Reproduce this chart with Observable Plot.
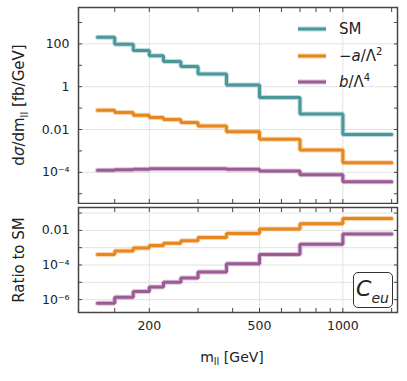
<!DOCTYPE html>
<html><head><meta charset="utf-8">
<script src="https://cdn.jsdelivr.net/npm/d3@7"></script>
<script src="https://cdn.jsdelivr.net/npm/@observablehq/plot@0.6"></script>
<style>
body{margin:0;background:#fff;}
#wrap{position:relative;width:407px;height:381px;font-family:"DejaVu Sans",sans-serif;color:#222;overflow:hidden;}
.abs{position:absolute;white-space:nowrap;}
.abs svg{display:block;}
</style></head><body><div id="wrap"></div>
<script>
// bin edges in m_ll [GeV]
const binEdges = [130,150,175,200,225,260,300,380,500,700,1000,1500];
// dσ/dm_ll [fb/GeV]
const smXsec = [205,97,49,27.7,15,8.8,3.9,1.19,0.31,0.053,0.0059];
const aXsec  = [0.079,0.062,0.046,0.036,0.029,0.021,0.0145,0.0078,0.0035,0.0011,0.00028];
const bXsec  = [1.24e-4,1.32e-4,1.4e-4,1.47e-4,1.48e-4,1.48e-4,1.47e-4,1.38e-4,1.15e-4,7.7e-5,3.6e-5];
// ratio to SM
const aRatio = [4.0e-4,6.4e-4,9.5e-4,1.35e-3,1.8e-3,2.5e-3,3.9e-3,6.5e-3,0.012,0.024,0.049];
const bRatio = [6.2e-7,1.37e-6,2.9e-6,5.4e-6,1.0e-5,1.77e-5,3.9e-5,1.2e-4,4.0e-4,1.6e-3,6.1e-3];
// ticks
const xTicks = [150,200,300,400,500,600,700,800,900,1000,1500];
const xLabelTicks = [200,500,1000];
const topYTicks = [1e-5,1e-4,1e-3,1e-2,1e-1,1,10,100,1000];
const topYLabelTicks = [1e-4,1e-2,1,100];
const topYLabelText = ["10⁻⁴","0.01","1","100"];
const botYTicks = [1e-6,1e-5,1e-4,1e-3,1e-2,1e-1];
const botYLabelTicks = [1e-6,1e-4,1e-2];
const botYLabelText = ["10⁻⁶","10⁻⁴","0.01"];
const seriesNames = ["SM","a","b"];
const seriesColors = ["#4b989b","#e8871e","#9c5b95"];

const wrap = document.getElementById("wrap");
const xDomain = [111, 1575];
const FRAME = "#454545";
const GRID = "#e2e2e2";

function steps(vals){ return binEdges.map((e,i)=>({x:e, y: vals[Math.min(i, vals.length-1)]})); }
function stepMarks(vals, color){
  const d = steps(vals);
  return [
    Plot.line(d,{x:"x",y:"y",curve:"step-after",stroke:color,strokeWidth:5,strokeOpacity:0.35,strokeLinejoin:"miter"}),
    Plot.line(d,{x:"x",y:"y",curve:"step-after",stroke:color,strokeWidth:3,strokeLinejoin:"miter"})
  ];
}
function lookup(vals, texts){ return v => { const i = vals.findIndex(t => Math.abs(t - v)/t < 1e-6); return i >= 0 ? texts[i] : ""; }; }

const common = {x:{type:"log",domain:xDomain,label:null}, style:{fontSize:"12.5px",fontFamily:"'DejaVu Sans', sans-serif",color:"#222",background:"transparent"}};

const topChart = Plot.plot({
  ...common,
  width:407, height:204, marginTop:7, marginBottom:1, marginLeft:78, marginRight:10,
  y:{type:"log",domain:[3.5e-6,5000],label:null},
  marks:[
    Plot.gridX(xLabelTicks,{stroke:GRID,strokeOpacity:1}),
    Plot.gridY(topYLabelTicks,{stroke:GRID,strokeOpacity:1}),
    ...stepMarks(smXsec, seriesColors[0]),
    ...stepMarks(aXsec, seriesColors[1]),
    ...stepMarks(bXsec, seriesColors[2]),
    Plot.axisX({anchor:"top",ticks:xTicks,tickSize:-4,tickFormat:()=>"",label:null,stroke:FRAME}),
    Plot.axisX({anchor:"bottom",ticks:xTicks,tickSize:-4,tickFormat:()=>"",label:null,stroke:FRAME}),
    Plot.axisY({anchor:"left",ticks:topYTicks,tickSize:-4,tickPadding:13,tickFormat:lookup(topYLabelTicks,topYLabelText),label:null,stroke:FRAME,fontSize:12.5}),
    Plot.axisY({anchor:"right",ticks:topYTicks,tickSize:-4,tickFormat:()=>"",label:null,stroke:FRAME}),
    Plot.frame({stroke:FRAME,strokeWidth:1.5})
  ]
});
const botChart = Plot.plot({
  ...common,
  width:407, height:181, marginTop:7, marginBottom:69, marginLeft:78, marginRight:10,
  y:{type:"log",domain:[1.8e-7,0.21],label:null},
  marks:[
    Plot.gridX(xLabelTicks,{stroke:GRID,strokeOpacity:1}),
    Plot.gridY(botYTicks,{stroke:GRID,strokeOpacity:1}),
    ...stepMarks(aRatio, seriesColors[1]),
    ...stepMarks(bRatio, seriesColors[2]),
    Plot.axisX({anchor:"top",ticks:xTicks,tickSize:-4,tickFormat:()=>"",label:null,stroke:FRAME}),
    Plot.axisX({anchor:"bottom",ticks:xTicks,tickSize:-4,tickPadding:13,tickFormat:lookup(xLabelTicks,xLabelTicks.map(String)),label:null,stroke:FRAME,fontSize:12.5}),
    Plot.axisY({anchor:"left",ticks:botYTicks,tickSize:-4,tickPadding:13,tickFormat:lookup(botYLabelTicks,botYLabelText),label:null,stroke:FRAME,fontSize:12.5}),
    Plot.axisY({anchor:"right",ticks:botYTicks,tickSize:-4,tickFormat:()=>"",label:null,stroke:FRAME}),
    Plot.frame({stroke:FRAME,strokeWidth:1.5})
  ]
});

function place(el, left, topPx){ const d = document.createElement("div"); d.className="abs"; d.style.left=left+"px"; d.style.top=topPx+"px"; d.appendChild(el); wrap.appendChild(d); return d; }
place(topChart, 0, 0);
place(botChart, 0, 200);

function html(h, css){ const d = document.createElement("div"); d.className="abs"; d.innerHTML=h; Object.assign(d.style, css); wrap.appendChild(d); return d; }

// axis titles
html('d<i>σ</i>/dm<sub style="font-size:10px">ll</sub> [fb/GeV]', {left:"20px",top:"105px",fontSize:"15px",transform:"translate(-50%,-50%) rotate(-90deg)"});
html('Ratio to SM', {left:"19px",top:"260px",fontSize:"15px",transform:"translate(-50%,-50%) rotate(-90deg)"});
html('m<sub style="font-size:10px">ll</sub> [GeV]', {left:"232px",top:"358px",fontSize:"14px",transform:"translate(-50%,-50%)"});

// legend
const legendLabels = ["SM",'−<i>a</i>/Λ<sup style="font-size:10px">2</sup>','<i>b</i>/Λ<sup style="font-size:10px">4</sup>'];
const legendY = [29,56,82];
legendLabels.forEach((lab,i)=>{
  html(`<svg width="28" height="6"><line x1="0" x2="28" y1="3" y2="3" stroke="${seriesColors[i]}" stroke-width="5" stroke-opacity="0.35"/><line x1="0" x2="28" y1="3" y2="3" stroke="${seriesColors[i]}" stroke-width="3"/></svg>`, {left:"298px",top:(legendY[i]-3)+"px"});
  html(lab, {left:"339px",top:legendY[i]+"px",fontSize:"15px",transform:"translateY(-52%)"});
});

// coefficient box
html('<i>C</i><sub style="font-size:14px;font-style:italic;position:relative;top:2px">eu</sub>', {left:"352.5px",top:"271.5px",width:"38px",height:"34px",border:"1.3px solid #333",borderRadius:"5px",fontSize:"22px",lineHeight:"32px",textAlign:"center",background:"#fff"});
</script></body></html>
